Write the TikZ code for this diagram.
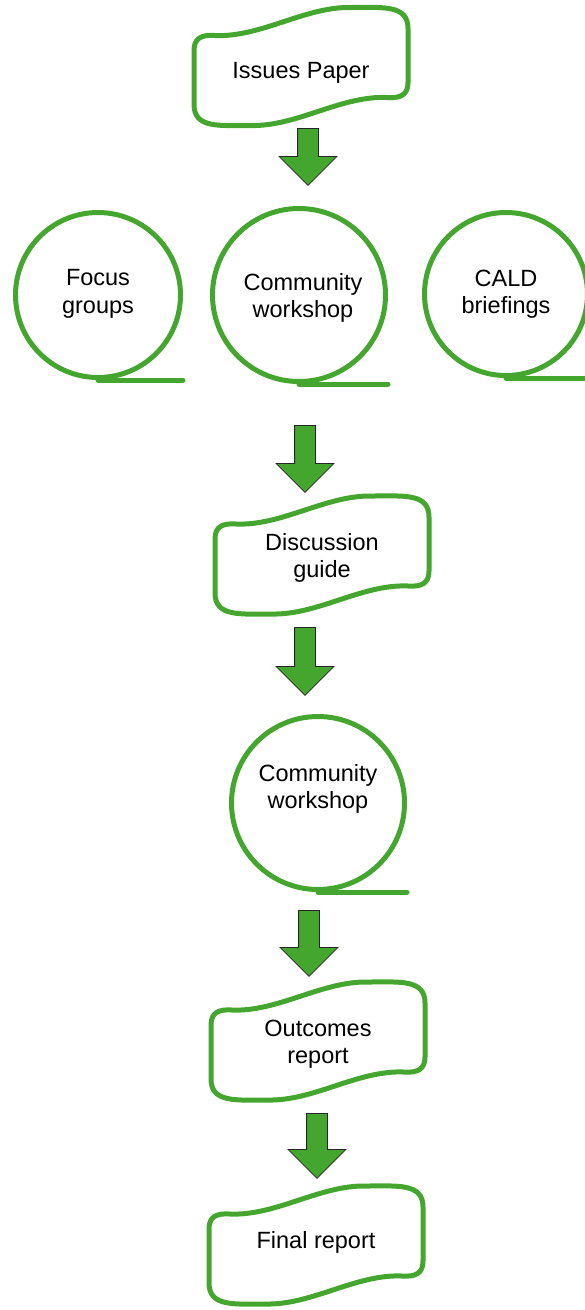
\documentclass[tikz,border=0pt]{standalone}
\usepackage{fontspec}
\setmainfont{Liberation Sans}
\usetikzlibrary{shapes.arrows}
\definecolor{leafgreen}{RGB}{68,166,46}

\begin{document}
\begin{tikzpicture}[x=1pt,y=-1pt,
	txt/.style={align=center,font=\fontsize{23.5}{27.5}\selectfont},
	paper/.style={txt,minimum width=214,minimum height=118},
	meeting/.style={circle,draw=leafgreen,line width=5pt,inner sep=0pt},
	tail/.style={draw=leafgreen,line width=5pt,line cap=round},
	wave/.style={draw=leafgreen,line width=5pt,line join=round},
	down/.style={single arrow,draw=black!85,fill=leafgreen,line width=0.8pt,
		shape border rotate=270,inner sep=10pt,anchor=tail,
		single arrow head extend=18.5}
	]
	\useasboundingbox (0,0) rectangle (585,1310);

	% papers and reports
	\node[paper] (issues) at (301,73) {Issues Paper};
	\node[paper] (guide) at (322,558) {Discussion\\guide};
	\node[paper] (outcomes) at (318,1044) {Outcomes\\report};
	\node[paper] (final) at (316,1242) {Final report};

	% meetings
	\node[meeting,minimum size=165,label={[txt,yshift=1]center:Focus\\groups}] (focus) at (98,295) {};
	\node[meeting,minimum size=173,label={[txt,xshift=4,yshift=-3]center:Community\\workshop}] (workshop) at (299,295) {};
	\node[meeting,minimum size=163,label={[txt]center:CALD\\briefings}] (cald) at (506,294) {};
	\node[meeting,minimum size=173,label={[txt,yshift=14]center:Community\\workshop}] (forum) at (318,803) {};

	% block arrows
	\node[down,minimum height=57] (d1) at (308,128) {};
	\node[down,minimum height=67] (d2) at (305,425) {};
	\node[down,minimum height=68] (d3) at (305,627) {};
	\node[down,minimum height=66] (d4) at (309,910) {};
	\node[down,minimum height=65] (d5) at (317,1113) {};

	\foreach \n/\dy in {issues/6.5,guide/3,outcomes/3,final/-3}
		\draw[wave,shift={(\n.center)},yshift=\dy] (-107,40) -- (-107,-16)
			.. controls (-107,-28) and (-100,-32) .. (-86,-31)
			.. controls (-40,-29) and (4,-60) .. (50,-59)
			.. controls (82,-59) and (107,-62) .. (107,-38) -- (107,16)
			.. controls (107,28) and (100,32) .. (86,31)
			.. controls (40,29) and (-4,60) .. (-50,59)
			.. controls (-82,59) and (-107,62) .. (-107,38) -- cycle;

	\foreach \n in {focus,workshop,cald,forum}
		\draw[tail] (\n.south) -- (\n.south -| \n.east);

\end{tikzpicture}
\end{document}
